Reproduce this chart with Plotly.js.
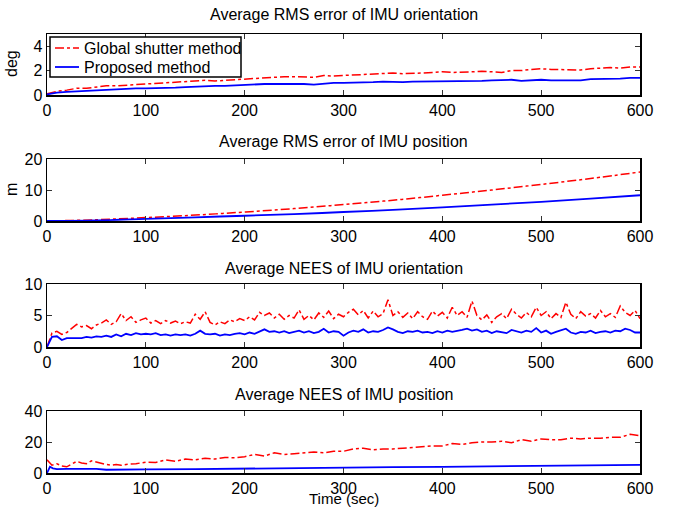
<!DOCTYPE html>
<html>
<head>
<meta charset="utf-8">
<script src="https://cdn.plot.ly/plotly-3.0.1.min.js"></script>
<style>html,body{margin:0;padding:0;background:#fff;}#chart{width:673px;height:508px;}</style>
</head>
<body>
<div id="chart"></div>
<script>
// ---- Data ----
const seriesNames = ["Global shutter method", "Proposed method"];
const panelTitles = ["Average RMS error of IMU orientation", "Average RMS error of IMU position", "Average NEES of IMU orientation", "Average NEES of IMU position"];
const xTicks = [0, 100, 200, 300, 400, 500, 600];

// Panel 1: RMS orientation (deg), 10 s steps
const t10 = [0,10,20,30,40,50,60,70,80,90,100,110,120,130,140,150,160,170,180,190,200,210,220,230,240,250,260,270,280,290,300,310,320,330,340,350,360,370,380,390,400,410,420,430,440,450,460,470,480,490,500,510,520,530,540,550,560,570,580,590,600];
const rmsOriGlobal = [0.1,0.3,0.4,0.55,0.55,0.65,0.75,0.75,0.8,0.85,0.9,0.9,0.95,1.0,1.05,1.1,1.2,1.15,1.2,1.3,1.3,1.4,1.45,1.5,1.5,1.5,1.5,1.45,1.6,1.55,1.6,1.65,1.7,1.75,1.75,1.8,1.75,1.75,1.8,1.85,1.9,1.85,1.85,1.9,1.95,1.9,1.85,2.0,2.0,2.1,2.15,2.1,2.1,2.1,2.05,2.15,2.2,2.25,2.2,2.3,2.3];
const rmsOriProposed = [0.05,0.2,0.25,0.3,0.35,0.4,0.45,0.5,0.5,0.55,0.55,0.55,0.6,0.6,0.65,0.7,0.7,0.75,0.75,0.8,0.8,0.85,0.9,0.9,0.9,0.95,0.9,0.85,0.95,1.0,1.0,1.0,1.05,1.05,1.1,1.05,1.05,1.1,1.1,1.1,1.1,1.15,1.15,1.15,1.15,1.2,1.2,1.25,1.15,1.2,1.25,1.2,1.2,1.25,1.2,1.3,1.3,1.35,1.35,1.4,1.4];

// Panel 2: RMS position (m), 50 s steps
const t50 = [0,50,100,150,200,250,300,350,400,450,500,550,600];
const rmsPosGlobal = [0,0.4,1.1,1.9,2.9,4.0,5.3,6.7,8.3,10.0,11.8,13.7,15.8];
const rmsPosProposed = [0,0.2,0.7,1.2,1.7,2.2,2.9,3.6,4.4,5.3,6.2,7.2,8.3];

// Panel 3: NEES orientation, 5 s steps
const t5 = [0,5,10,15,20,25,30,35,40,45,50,55,60,65,70,75,80,85,90,95,100,105,110,115,120,125,130,135,140,145,150,155,160,165,170,175,180,185,190,195,200,205,210,215,220,225,230,235,240,245,250,255,260,265,270,275,280,285,290,295,300,305,310,315,320,325,330,335,340,345,350,355,360,365,370,375,380,385,390,395,400,405,410,415,420,425,430,435,440,445,450,455,460,465,470,475,480,485,490,495,500,505,510,515,520,525,530,535,540,545,550,555,560,565,570,575,580,585,590,595,600];
const neesOriGlobal = [0,2.2,2.5,2.0,2.3,3.0,3.6,3.2,3.4,2.9,3.5,3.8,4.3,3.6,4.0,5.3,4.2,4.8,3.9,4.3,4.6,3.8,4.2,3.7,4.2,3.8,4.1,3.7,4.0,3.8,5.2,4.4,5.6,3.9,3.5,4.0,3.7,4.3,4.0,4.5,4.2,4.8,4.3,5.5,5.0,5.4,4.6,5.2,4.4,5.0,4.6,5.9,4.4,5.0,4.3,5.4,4.7,5.7,4.5,5.2,4.8,5.5,6.0,5.1,5.8,4.6,5.7,4.8,5.3,7.5,5.0,5.6,4.7,5.4,4.5,5.6,4.8,4.4,5.7,4.9,5.5,4.6,6.3,5.0,5.6,4.7,7.3,5.0,4.3,5.1,3.9,4.8,5.3,4.5,6.0,5.2,4.6,5.5,4.8,6.3,5.0,5.6,4.5,5.3,4.7,7.1,5.2,4.5,5.6,4.9,5.3,4.6,5.8,4.8,5.3,4.7,6.5,5.5,5.0,5.8,4.5];
const neesOriProposed = [0,1.6,1.7,1.1,1.4,1.4,1.5,1.4,1.6,1.5,1.7,1.6,1.8,1.6,2.0,1.7,2.1,1.9,2.2,2.0,2.1,2.0,2.2,1.9,2.0,1.8,2.0,1.9,2.0,1.8,2.1,2.6,2.1,2.0,2.1,1.8,2.0,1.9,2.1,2.2,2.0,2.3,2.1,2.4,2.8,2.4,2.5,2.3,2.5,2.2,2.4,2.6,2.3,2.5,2.2,2.4,2.9,2.3,2.5,2.4,1.8,2.3,2.6,2.4,2.8,2.3,2.5,2.4,2.7,3.1,2.8,2.4,2.2,2.5,2.4,2.6,2.3,2.4,2.2,2.5,2.3,2.6,2.4,2.5,2.7,2.9,2.6,2.8,2.4,2.6,2.2,2.5,2.4,2.2,2.7,2.5,2.3,2.6,2.4,3.0,2.3,2.6,2.1,2.4,2.6,2.9,2.3,2.1,2.4,2.3,2.6,2.2,2.4,2.5,2.3,2.6,2.5,2.9,2.7,2.3,2.3];

// Panel 4: NEES position
const tNeesPosGlobal = [0,5,10,15,20,25,30,35,40,45,50,55,60,65,70,75,80,90,100,110,120,130,140,150,160,170,180,190,200,210,220,230,240,250,260,270,280,290,300,310,320,330,340,350,360,370,380,390,400,410,420,430,440,450,460,470,480,490,500,510,520,530,540,550,560,570,580,590,600];
const neesPosGlobal = [8.5,5,6,4.5,4,5.5,7.5,6.5,6,7.8,7,6,5.5,5,5.5,5,5.5,6,7,6.8,8.5,7.5,9,8.5,9.5,9,10,9.8,10.5,12,11,13,12,12.5,13,13.5,13,14,14,15.5,16,15,15.5,15.5,16,16.5,17,17.5,17.5,19,18.5,19.5,20,20,20.5,19.5,21.5,20.5,22,21.5,21.5,22.5,22,22.5,22.5,23,23,25,24];
const tNeesPosProposed = [0,3,6,10,20,40,50,60,80,100,150,200,250,300,350,400,450,500,550,600];
const neesPosProposed = [0,4,3,2.5,2.7,3,2.7,2.1,2.3,2.4,2.5,2.9,3.2,3.5,3.8,4.0,4.3,4.6,4.9,5.2];

const yRanges = [[0,5],[0,20],[0,10],[0,40]];
const yTickVals = [[0,2,4],[0,10,20],[0,5,10],[0,20,40]];

// ---- Styles ----
const redLine = {color: '#ff0000', width: 1.5, dash: 'dashdot'};
const blueLine = {color: '#0000ff', width: 1.8};
const lineStyles = [redLine, blueLine];

const traces = [
  {x: t10, y: rmsOriGlobal, name: seriesNames[0], type: 'scatter', mode: 'lines', line: redLine, xaxis: 'x', yaxis: 'y'},
  {x: t10, y: rmsOriProposed, name: seriesNames[1], type: 'scatter', mode: 'lines', line: blueLine, xaxis: 'x', yaxis: 'y'},
  {x: t50, y: rmsPosGlobal, name: seriesNames[0], type: 'scatter', mode: 'lines', line: Object.assign({shape: 'spline'}, redLine), xaxis: 'x2', yaxis: 'y2'},
  {x: t50, y: rmsPosProposed, name: seriesNames[1], type: 'scatter', mode: 'lines', line: Object.assign({shape: 'spline'}, blueLine), xaxis: 'x2', yaxis: 'y2'},
  {x: t5, y: neesOriGlobal, name: seriesNames[0], type: 'scatter', mode: 'lines', line: redLine, xaxis: 'x3', yaxis: 'y3'},
  {x: t5, y: neesOriProposed, name: seriesNames[1], type: 'scatter', mode: 'lines', line: blueLine, xaxis: 'x3', yaxis: 'y3'},
  {x: tNeesPosGlobal, y: neesPosGlobal, name: seriesNames[0], type: 'scatter', mode: 'lines', line: redLine, xaxis: 'x4', yaxis: 'y4'},
  {x: tNeesPosProposed, y: neesPosProposed, name: seriesNames[1], type: 'scatter', mode: 'lines', line: blueLine, xaxis: 'x4', yaxis: 'y4'}
];

const W = 673, H = 508, L = 47, PW = 593;
const plotTops = [34, 159, 284, 411];
const plotBottoms = [95, 221, 347, 473];
const titleYs = [15, 142, 268, 394];
const font = 'Liberation Sans, Arial, Helvetica, sans-serif';
const px = v => (v - L) / PW;       // pixel x -> paper x
const py = v => 1 - v / H;          // pixel y -> paper y

function xAxis(anchor, fs) {
  return {domain: [0,1], range: [0,600], tickvals: xTicks, ticktext: xTicks.map(String), anchor: anchor,
    showline: true, mirror: 'ticks', linecolor: '#000', linewidth: 1.5, ticks: 'inside', ticklen: 5, tickwidth: 1, tickcolor: '#333',
    showgrid: false, zeroline: false, tickfont: {family: font, size: fs || 16, color: '#000'}};
}
function yAxis(i, anchor) {
  return {domain: [py(plotBottoms[i]), py(plotTops[i])], range: yRanges[i], tickvals: yTickVals[i], anchor: anchor,
    showline: true, mirror: 'ticks', linecolor: '#000', linewidth: 1.5, ticks: 'inside', ticklen: 5, tickwidth: 1, tickcolor: '#333',
    showgrid: false, zeroline: false, tickfont: {family: font, size: 16, color: '#000'}};
}

const annotations = panelTitles.map((t, i) => ({
  text: t, xref: 'paper', yref: 'paper', x: 0.5, y: py(titleYs[i]), xanchor: 'center', yanchor: 'middle',
  showarrow: false, font: {family: font, size: 16, color: '#000'}
}));
annotations.push({text: 'deg', xref: 'paper', yref: 'paper', x: px(11), y: py(64), textangle: -90, xanchor: 'center', yanchor: 'middle', showarrow: false, font: {family: font, size: 16, color: '#000'}});
annotations.push({text: 'm', xref: 'paper', yref: 'paper', x: px(11), y: py(190), textangle: -90, xanchor: 'center', yanchor: 'middle', showarrow: false, font: {family: font, size: 16, color: '#000'}});
annotations.push({text: 'Time (sec)', xref: 'paper', yref: 'paper', x: 0.5, y: 0, xanchor: 'center', yanchor: 'bottom', borderpad: 0, showarrow: false, font: {family: font, size: 15, color: '#000'}});

// Legend (MATLAB-style box inside the first panel)
const legBox = {x0: 50, x1: 241, y0: 37, y1: 77};
const legRows = [48, 67];
const shapes = [{type: 'rect', xref: 'paper', yref: 'paper', x0: px(legBox.x0), x1: px(legBox.x1), y0: py(legBox.y1), y1: py(legBox.y0),
  line: {color: '#000', width: 1.5}, fillcolor: '#fff', layer: 'above'}];
seriesNames.forEach((n, i) => {
  shapes.push({type: 'line', xref: 'paper', yref: 'paper', x0: px(55), x1: px(79), y0: py(legRows[i]), y1: py(legRows[i]),
    line: {color: lineStyles[i].color, width: lineStyles[i].width, dash: i === 0 ? 'dashdot' : 'solid'}, layer: 'above'});
  annotations.push({text: n, xref: 'paper', yref: 'paper', x: px(82), y: py(legRows[i]), xanchor: 'left', yanchor: 'middle',
    showarrow: false, font: {family: font, size: 16, color: '#000'}});
});

const layout = {
  width: W, height: H,
  margin: {l: L, r: W - L - PW, t: 0, b: 0, pad: 0},
  paper_bgcolor: '#fff', plot_bgcolor: '#fff',
  font: {family: font, color: '#000'},
  xaxis: xAxis('y'), yaxis: yAxis(0, 'x'),
  xaxis2: xAxis('y2'), yaxis2: yAxis(1, 'x2'),
  xaxis3: xAxis('y3'), yaxis3: yAxis(2, 'x3'),
  xaxis4: xAxis('y4'), yaxis4: yAxis(3, 'x4'),
  showlegend: false,
  shapes: shapes,
  annotations: annotations
};

Plotly.newPlot('chart', traces, layout, {staticPlot: true, displayModeBar: false});
</script>
</body>
</html>
